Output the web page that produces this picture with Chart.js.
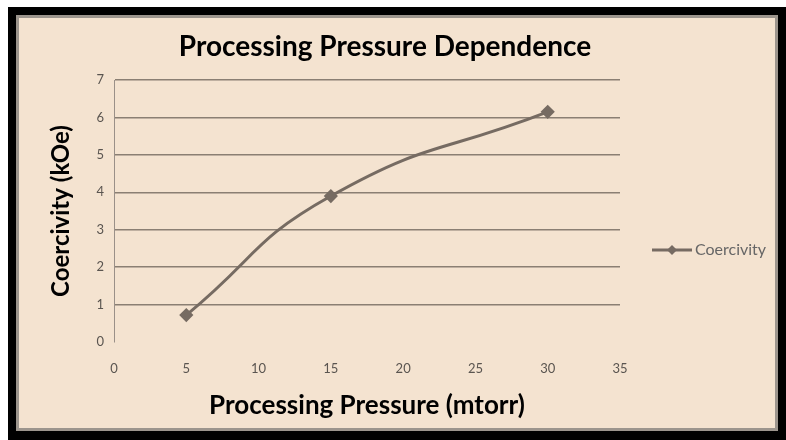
<!DOCTYPE html>
<html>
<head>
<meta charset="utf-8">
<script src="https://cdn.jsdelivr.net/npm/chart.js@4.4.1/dist/chart.umd.min.js"></script>
<style>
  html, body { margin: 0; padding: 0; background: #ffffff; width: 786px; height: 440px; overflow: hidden; }
  #frame { position: absolute; left: 8px; top: 7px; width: 778px; height: 433px; background: #000000; }
  #inner { position: absolute; left: 8px; top: 8px; width: 762px; height: 416px; border: 3px solid #9c958d; box-sizing: border-box; background: #f4e3d0; }
  #wrap { position: absolute; left: 0; top: 0; width: 756px; height: 410px; }
</style>
</head>
<body>
<div id="frame"><div id="inner"><div id="wrap"><canvas id="c"></canvas></div></div></div>
<script>
const seriesName = "Coercivity";
const pressure = [5, 15, 30];
const coercivity = [0.72, 3.9, 6.15];
const xTicks = [0, 5, 10, 15, 20, 25, 30, 35];
const yTicks = [0, 1, 2, 3, 4, 5, 6, 7];

const lineColor = '#766b62';
const gridColor = '#8a7f73';
const tickColor = '#5a5550';

// legend marker: short line with a diamond
const mk = document.createElement('canvas');
mk.width = 40; mk.height = 12;
(function () {
  const g = mk.getContext('2d');
  g.strokeStyle = lineColor; g.lineWidth = 3;
  g.beginPath(); g.moveTo(0, 6); g.lineTo(40, 6); g.stroke();
  g.fillStyle = lineColor;
  g.beginPath(); g.moveTo(20, 1); g.lineTo(25, 6); g.lineTo(20, 11); g.lineTo(15, 6); g.closePath(); g.fill();
})();

const points = pressure.map((p, i) => ({ x: p, y: coercivity[i] }));

// shift the title's centre slightly left, as in the reference
const titleShift = {
  id: 'titleShift',
  afterLayout(chart) {
    if (chart.titleBlock) chart.titleBlock.right -= 24;
  }
};

new Chart(document.getElementById('c'), {
  type: 'line',
  data: {
    datasets: [{
      label: seriesName,
      data: points,
      borderColor: lineColor,
      backgroundColor: lineColor,
      borderWidth: 3,
      tension: 0.5,
      pointStyle: 'rectRot',
      pointRadius: 5,
      pointBackgroundColor: lineColor,
      pointBorderColor: lineColor,
      fill: false
    }]
  },
  plugins: [titleShift],
  options: {
    responsive: true,
    maintainAspectRatio: false,
    animation: false,
    layout: { padding: { left: 0, right: 0, top: 0, bottom: 0 } },
    plugins: {
      title: {
        display: true,
        text: 'Processing Pressure Dependence',
        color: '#000000',
        font: { family: 'Lato', size: 28, weight: 'bold' },
        padding: { top: 12, bottom: 16.4 }
      },
      legend: {
        display: true,
        position: 'right',
        maxWidth: 155,
        title: { display: true, text: ' ', font: { size: 10 }, padding: { top: 21, bottom: 21 } },
        labels: {
          color: '#3a3530',
          font: { family: 'Lato', size: 16 },
          usePointStyle: true,
          boxWidth: 30,
          pointStyleWidth: 30,
          generateLabels: (chart) => [{
            text: seriesName,
            pointStyle: mk,
            fillStyle: lineColor,
            strokeStyle: lineColor,
            lineWidth: 0,
            datasetIndex: 0
          }],
          padding: 37
        }
      },
      tooltip: { enabled: false }
    },
    scales: {
      x: {
        type: 'linear',
        min: 0, max: 35,
        afterBuildTicks: (s) => { s.ticks = xTicks.map(v => ({ value: v })); },
        afterFit: (s) => { s.height = 86; },
        grid: { display: false },
        border: { display: false },
        ticks: { color: tickColor, font: { family: 'Lato', size: 13 }, padding: 11 },
        title: {
          display: true,
          text: 'Processing Pressure (mtorr)',
          color: '#000000',
          font: { family: 'Lato', size: 26, weight: 'bold' },
          padding: { top: 7, bottom: 7 }
        }
      },
      y: {
        min: 0, max: 7,
        afterBuildTicks: (s) => { s.ticks = yTicks.map(v => ({ value: v })); },
        afterFit: (s) => { s.width = 95; },
        grid: {
          color: (ctx) => (ctx.tick && ctx.tick.value === 0) ? 'rgba(0,0,0,0)' : gridColor,
          lineWidth: 1.5,
          drawTicks: false
        },
        border: { display: true, color: '#9a9088', width: 1 },
        ticks: { color: tickColor, font: { family: 'Lato', size: 13 }, padding: 10 },
        title: {
          display: true,
          text: 'Coercivity (kOe)',
          color: '#000000',
          font: { family: 'Lato', size: 24, weight: 'bold' },
          padding: { top: 28, bottom: 0 }
        }
      }
    }
  }
});
</script>
</body>
</html>
